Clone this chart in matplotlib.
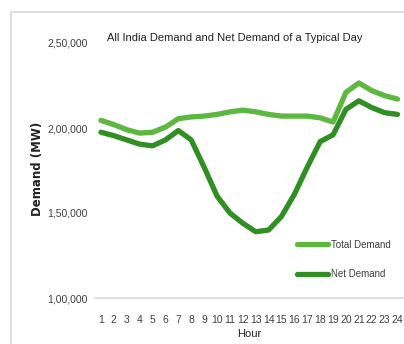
import matplotlib.pyplot as plt
from matplotlib.patches import Rectangle
from matplotlib.ticker import FuncFormatter

# ==========================================================
# Data (MW by hour of day)
# ==========================================================

hours = list(range(1, 25))

total_demand = [
    204500, 202000, 199000, 197000, 197500, 200500, 205500, 206500,
    207000, 208000, 209500, 210500, 209500, 208000, 207000, 207000,
    207000, 206000, 203500, 221000, 226500, 222000, 219000, 217000,
]

net_demand = [
    197500, 195500, 193000, 190500, 189500, 193000, 198500, 193000,
    177000, 160000, 150000, 144000, 139000, 140000, 148000, 161000,
    177000, 192000, 196000, 211000, 216000, 212000, 209000, 208000,
]

y_ticks = [100000, 150000, 200000, 250000]

TOTAL_COLOR = "#5cb83f"
NET_COLOR = "#2f8f22"
TEXT_COLOR = "#404040"
FONT = ["Liberation Sans Narrow", "Liberation Sans", "DejaVu Sans"]

plt.rcParams["font.family"] = FONT


def indian_format(value, pos=None):
    # 250000 -> 2,50,000
    s = str(int(value))
    last3 = s[-3:]
    rest = s[:-3]
    groups = []
    while len(rest) > 2:
        groups.insert(0, rest[-2:])
        rest = rest[:-2]
    if rest:
        groups.insert(0, rest)
    return ",".join(groups + [last3])


# ==========================================================
# Figure
# ==========================================================

fig = plt.figure(figsize=(4.04, 3.44), dpi=100)

# outer chart border
fig.patches.append(
    Rectangle((11 / 404, -0.1), 1.2, (344 - 12) / 344 + 0.1,
              transform=fig.transFigure, fill=False,
              edgecolor="#d9d9d9", linewidth=1.2)
)

ax = fig.add_axes([94.5 / 404, 46 / 344, 1 - 94.5 / 404, 255 / 344])

ax.plot(hours, total_demand, color=TOTAL_COLOR, linewidth=3.8,
        solid_capstyle="round", solid_joinstyle="round", label="Total Demand")
ax.plot(hours, net_demand, color=NET_COLOR, linewidth=3.8,
        solid_capstyle="round", solid_joinstyle="round", label="Net Demand")

ax.set_xlim(0.5, 24.5)
ax.set_ylim(100000, 250000)
ax.set_xticks(hours)
ax.set_yticks(y_ticks)
ax.yaxis.set_major_formatter(FuncFormatter(indian_format))

for side in ["top", "right", "left"]:
    ax.spines[side].set_visible(False)
ax.spines["bottom"].set_color("#d9d9d9")
ax.spines["bottom"].set_linewidth(1.2)

ax.tick_params(axis="both", length=0, labelsize=7.5, colors=TEXT_COLOR)
ax.tick_params(axis="y", pad=5)
ax.tick_params(axis="x", pad=12)

ax.set_xlabel("Hour", fontsize=8, color="#222222", labelpad=3)
fig.text(37 / 404, 1 - 169 / 344, "Demand (MW)", rotation=90,
         ha="center", va="center", fontsize=8.5, fontweight="bold",
         color="#222222", family=["DejaVu Sans"])

fig.text(235 / 404, 1 - 38 / 344,
         "All India Demand and Net Demand of a Typical Day",
         ha="center", va="center", fontsize=8, color="#222222")

ax.legend(loc="upper left", bbox_to_anchor=(288 / 404, 1 - 231 / 344),
          bbox_transform=fig.transFigure, frameon=False, fontsize=7,
          handlelength=3.2, handletextpad=0.3, labelspacing=2.0,
          labelcolor=TEXT_COLOR)

fig.savefig("out.png", dpi=100)
